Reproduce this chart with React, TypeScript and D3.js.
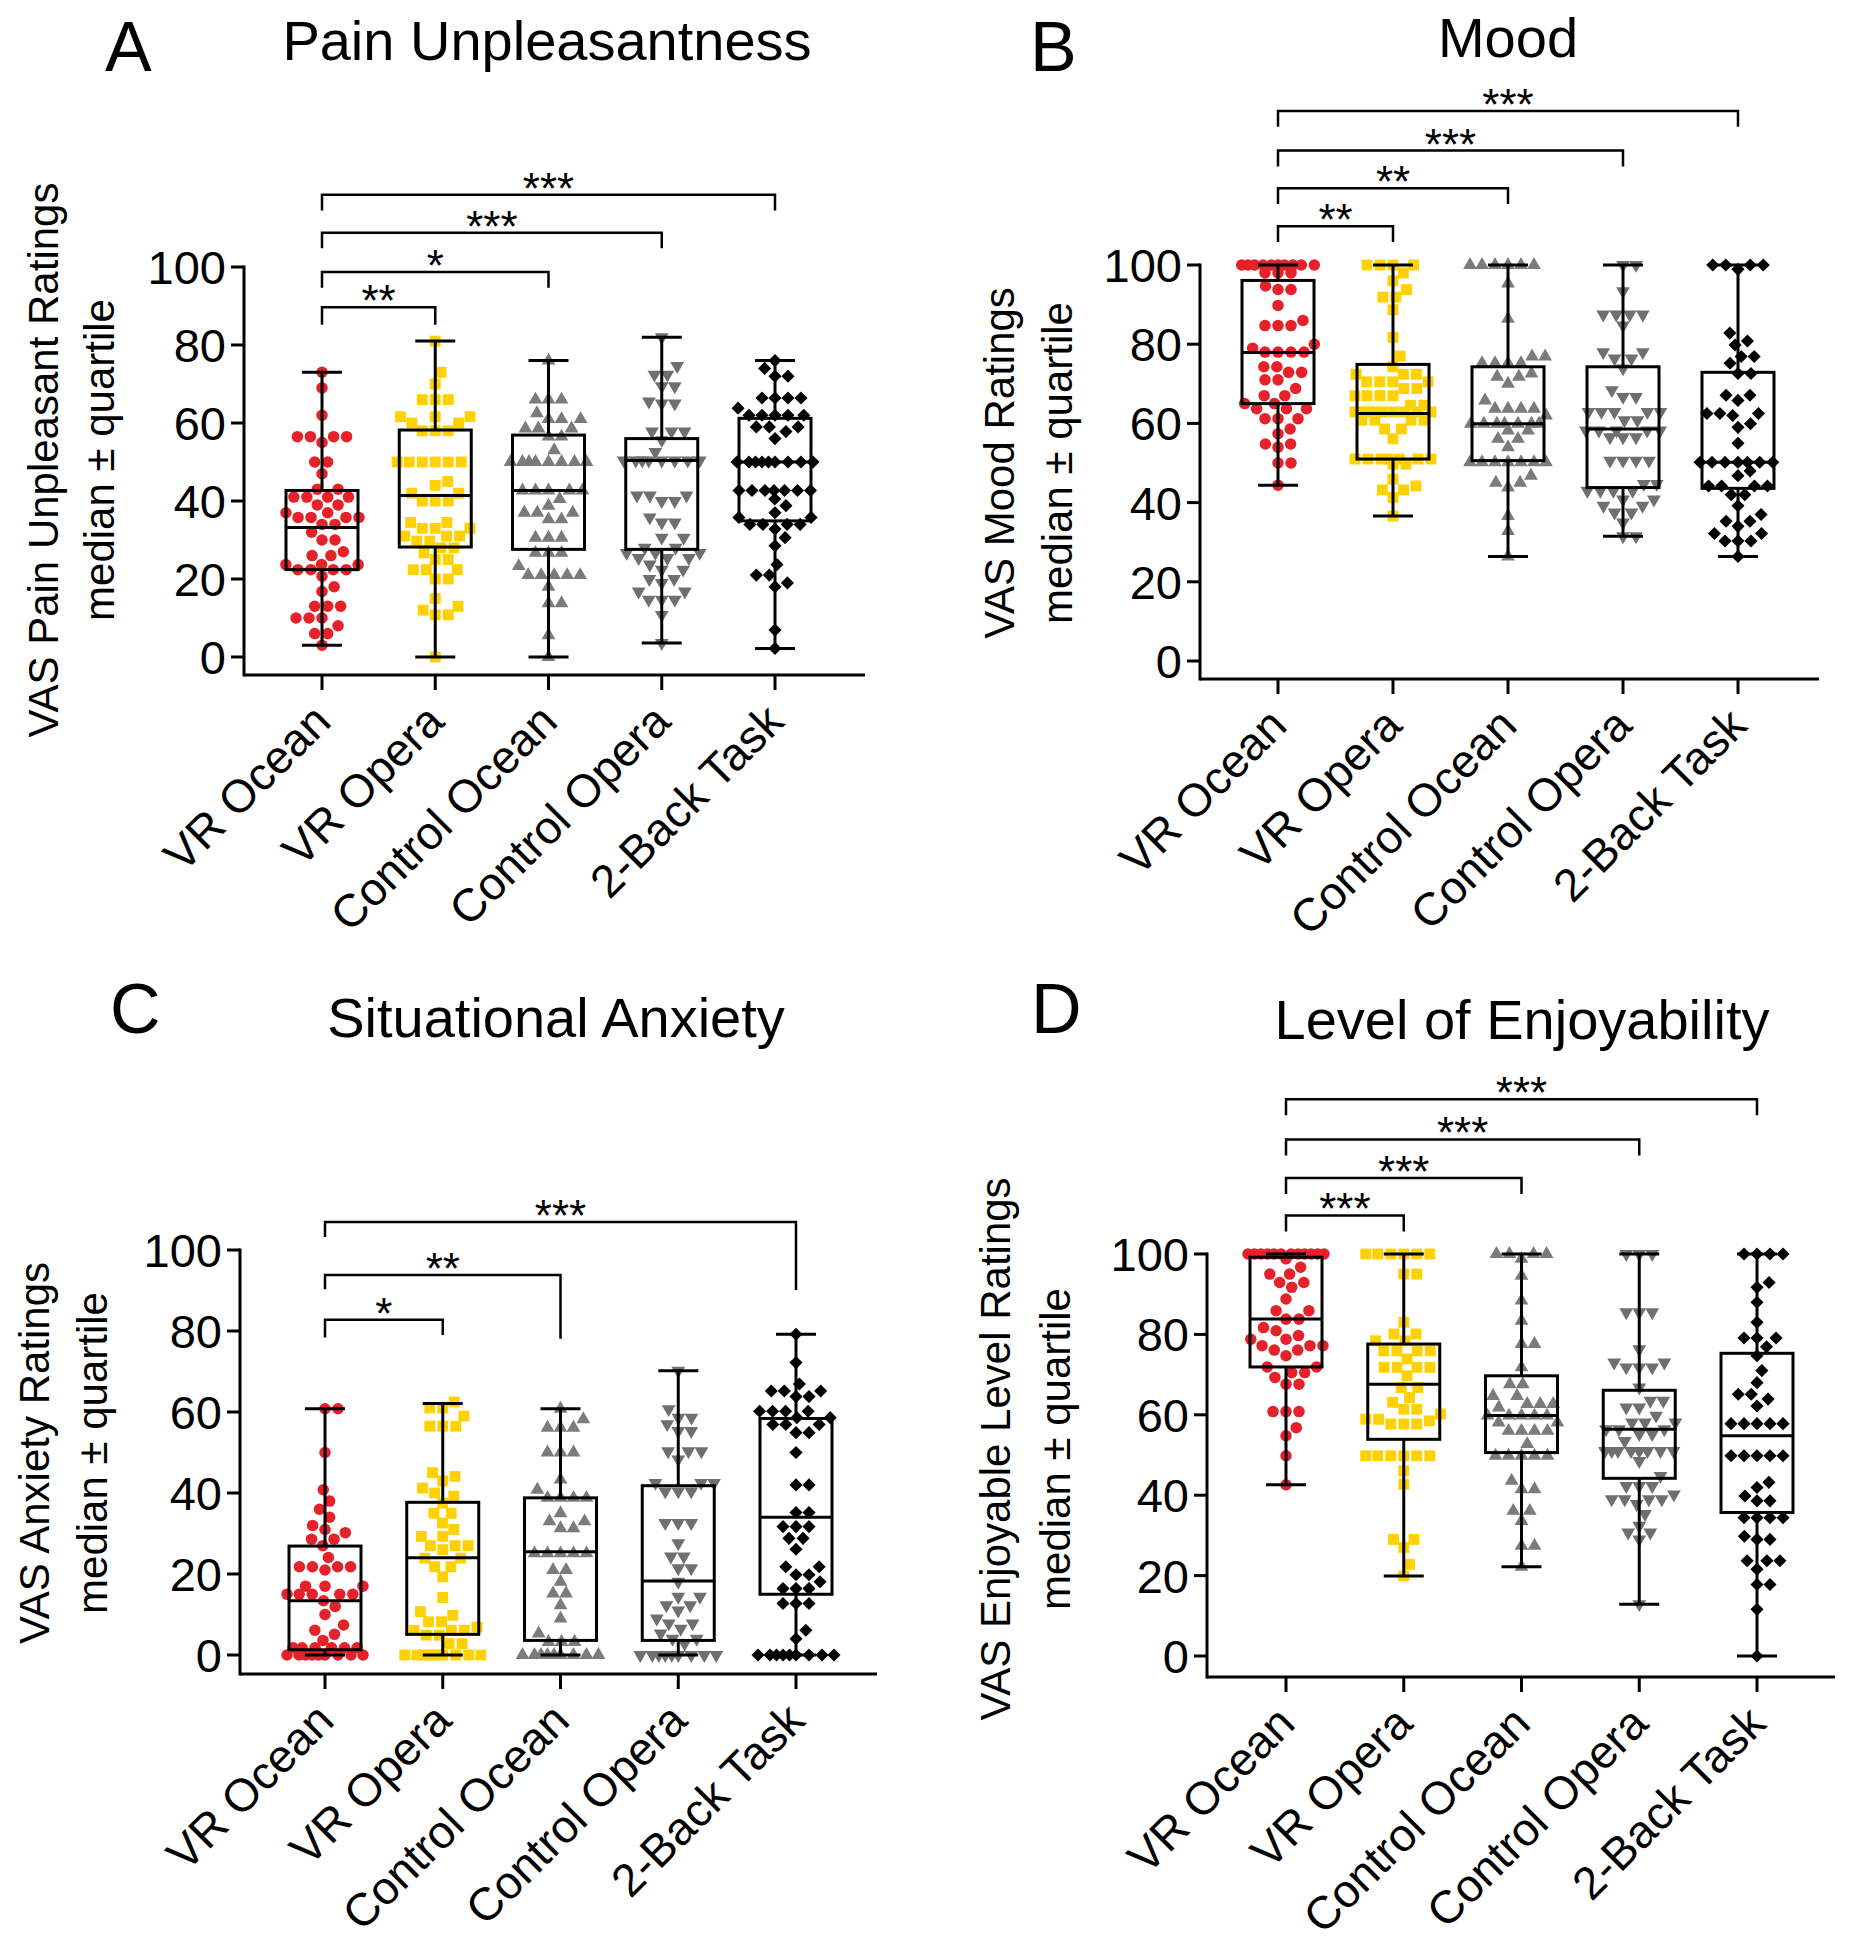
import React from 'react';
import * as d3 from 'd3';

const categories = ['VR Ocean', 'VR Opera', 'Control Ocean', 'Control Opera', '2-Back Task'];
const yTickValues = [0, 20, 40, 60, 80, 100];

// ---------- Panel A: Pain Unpleasantness ----------
const painVROcean = [73, 69, 62, 56.5, 56.5, 56.5, 56.5, 55, 50, 50, 47, 43, 43, 41, 41, 41, 41, 39, 39, 37, 37, 35.8, 35.8, 35.8, 35.8, 34, 34, 32, 30, 30, 27, 26, 26, 23.7, 23.7, 23.7, 22.4, 22.4, 22.4, 22.4, 20.7, 18, 16.8, 13, 13, 13, 10, 10, 10, 8, 6, 6, 3];
const painVROpera = [81, 73, 70, 66, 66, 66, 61.6, 61.6, 61.6, 60, 60, 58, 58, 58, 50, 50, 50, 50, 50, 50, 45, 44, 42, 42, 40, 40, 40, 34.5, 34.5, 33, 33, 33, 31, 31, 31, 29.7, 29.7, 28, 28, 26.7, 25, 25, 22.4, 22.4, 22.4, 20, 20, 15, 13, 12, 10.8, 10.8, 0];
const painCtrlOcean = [76, 66, 66, 66, 62.5, 61, 61, 61, 58.6, 58.6, 58.6, 56.5, 56.5, 53, 50, 50, 50, 50, 50, 50, 50, 50, 42.7, 42.7, 42.7, 42.7, 42.7, 40.5, 38.8, 37, 37, 37, 35.3, 35.3, 30.6, 30.6, 30.6, 26.7, 26.7, 26.7, 23.3, 21, 21, 21, 21, 21, 18, 13.8, 13.8, 5.6, 0];
const painCtrlOpera = [82, 74.6, 72.4, 72.4, 69.4, 69.4, 65.5, 65, 65, 57.8, 57.8, 57.8, 55.6, 52.6, 50.4, 50.4, 50.4, 50.4, 50.4, 50.4, 50.4, 50.4, 41.4, 41.4, 41.4, 40, 40, 35.8, 34.5, 34.5, 30.6, 30.6, 28, 28, 26.7, 26.7, 26.7, 25.4, 25.4, 25.4, 23.7, 22.4, 22.4, 20, 20, 19, 16.8, 16.8, 14.7, 14.7, 14.7, 10.8, 3.6];
const painTwoBack = [76, 74, 72, 72, 66.4, 66.4, 66.4, 66.4, 63.8, 62, 62, 62, 62, 62, 59, 59, 59, 57.8, 56, 50, 50, 50, 50, 50, 50, 50, 50, 50, 42.7, 42.7, 42.7, 42.7, 42.7, 42.7, 42.7, 40.5, 38.8, 37, 35.8, 35.8, 34, 34, 34, 34, 32.8, 30.6, 28.5, 23.7, 21, 21, 19, 18, 6.9, 2.2];
// [min, q1, median, q3, max]
const painBoxes = [[3, 22.4, 33.2, 42.7, 73], [0, 28.2, 41.4, 58.2, 81], [0, 27.6, 42.7, 56.9, 76], [3.6, 27.6, 50.4, 56, 82], [2.2, 34.9, 50, 61.2, 76]];
const painBrackets = [
  { to: 1, level: 89.7, legL: 4.5, legR: 4.5, label: '**' },
  { to: 2, level: 98.7, legL: 4, legR: 4, label: '*' },
  { to: 3, level: 108.8, legL: 4, legR: 4, label: '***' },
  { to: 4, level: 118.5, legL: 4, legR: 4, label: '***' },
];

// ---------- Panel B: Mood ----------
const moodVROcean = [100, 100, 100, 100, 100, 100, 100, 100, 100, 100, 98, 98, 98, 94.7, 93.8, 93.8, 89.8, 86, 84.7, 84.7, 84.7, 80, 79, 78, 78, 78, 78, 74.3, 74.3, 72.9, 72.9, 71, 71, 68.8, 67, 67, 65, 65, 63.7, 63.7, 63.7, 61.2, 61.2, 61.2, 58.6, 57.4, 54.8, 54.8, 54, 50, 50, 44.4];
const moodVROpera = [100, 100, 100, 100, 98, 96, 93.8, 91.9, 91.9, 88.7, 81.7, 77, 74.3, 72.4, 72.4, 72.4, 70.5, 70.5, 70.5, 70.5, 68.8, 68.8, 67, 67, 67, 67, 64.6, 64.6, 62.9, 62.9, 62.9, 62.9, 62.9, 62.9, 62.9, 62.9, 62.9, 60.8, 60.8, 60.8, 60.8, 58.6, 58.6, 56.1, 51, 51, 51, 51, 51, 51, 51, 49.7, 49.7, 45.9, 44.2, 43.2, 43.2, 41.3, 36.6];
const moodCtrlOcean = [100, 100, 100, 100, 100, 100, 95.3, 86.4, 76.9, 76.9, 75.2, 75.2, 75.2, 75.2, 72.6, 71.8, 71.8, 70, 65.8, 63.7, 63.7, 63.7, 63.7, 62, 59.9, 59.9, 59.9, 59.9, 59.9, 59.9, 59.9, 58.2, 58.2, 56.1, 56.1, 54, 50.2, 50.2, 50.2, 50.2, 50.2, 50.2, 50.2, 46.8, 45, 45, 43.8, 36.6, 32.8, 26.4];
const moodCtrlOpera = [100, 100, 93.4, 87.5, 87.5, 87.5, 87.5, 84.7, 78, 78, 76.4, 76.4, 73.9, 68.4, 66.7, 66.7, 62.9, 62.9, 62.9, 62.9, 62.9, 60.8, 60.8, 58.2, 58.2, 58.2, 58.2, 58.2, 56.5, 56.5, 56.5, 50.6, 50.6, 50.6, 50.6, 44.7, 44.7, 43, 43, 43, 43, 40.8, 40.8, 39.2, 39.2, 37.5, 37.5, 35, 31.5, 31.5];
const moodTwoBack = [100, 100, 100, 100, 98.9, 82.8, 80.8, 79.8, 76.9, 76.9, 75.2, 72.6, 72.6, 67.1, 67.1, 65.8, 62.5, 62.5, 62.5, 62, 59.9, 59, 55, 50.2, 50.2, 50.2, 50.2, 50.2, 50.2, 50.2, 48, 46.8, 44.2, 44.2, 44.2, 44.2, 42, 42, 39.2, 37, 35.3, 35.3, 34, 32.2, 32.2, 30.3, 30.3, 30.3, 26.4];
const moodBoxes = [[44.4, 65, 77.9, 96.1, 100], [36.6, 51, 62.5, 74.9, 100], [26.4, 50.6, 59.9, 74.3, 100], [31.5, 43.8, 58.6, 74.3, 100], [26.4, 43.6, 50.2, 72.9, 100]];
const moodBrackets = [
  { to: 1, level: 109.8, legL: 4, legR: 4, label: '**' },
  { to: 2, level: 119.4, legL: 4, legR: 4, label: '**' },
  { to: 3, level: 128.9, legL: 4, legR: 4, label: '***' },
  { to: 4, level: 138.9, legL: 4, legR: 4, label: '***' },
];

// ---------- Panel C: Situational Anxiety ----------
const anxVROcean = [60.8, 60.8, 50, 40.8, 38, 36, 34, 32, 31, 30.2, 28.6, 28.6, 27, 24.1, 21.8, 21.8, 21.8, 21.8, 21, 17, 17, 17, 15, 15, 15, 15, 15, 13.4, 12, 10, 7.4, 6.1, 5.1, 3.6, 1.8, 1.8, 1.8, 1.8, 1.8, 1.8, 0, 0, 0, 0, 0, 0, 0, 0, 0];
const anxVROpera = [62.5, 61, 61, 59, 56.5, 56.5, 56.5, 45, 44.1, 43, 41.2, 40, 39.2, 37.5, 35, 35, 32.6, 31, 29.3, 29.3, 27, 27, 27, 26, 23.9, 23.9, 21.8, 21.8, 19.3, 14.2, 10.7, 9.8, 8.2, 8.2, 6.9, 6.1, 6.1, 6.1, 4.9, 4.9, 2.8, 2.8, 0, 0, 0, 0, 0, 0, 0, 0, 0];
const anxCtrlOcean = [60.8, 58.2, 56.1, 56.1, 56.1, 50, 50, 50, 43.3, 40.8, 38.8, 38.8, 38.8, 38.8, 35, 33, 33, 31.3, 31.3, 25.1, 25.1, 25.1, 25.1, 25.1, 21, 21, 18.1, 15.2, 15.2, 12.3, 9, 5.3, 3.2, 3.2, 3.2, 0, 0, 0, 0, 0, 0, 0, 0, 0];
const anxCtrlOpera = [70.2, 60.7, 58.6, 58.6, 57, 55.3, 55.3, 50.3, 50.3, 50.3, 48.3, 42.5, 42.5, 42.5, 40.4, 40.4, 40.4, 32.6, 32.6, 32.6, 27.6, 24.3, 24.3, 21.4, 21.4, 18.1, 14.4, 14.4, 12.3, 12.3, 11, 9, 7.8, 7.8, 6.5, 5.3, 4, 4, 2.8, 0, 0, 0, 0, 0, 0, 0, 0, 0];
const anxTwoBack = [79.2, 72.2, 66.9, 65.2, 65.2, 65.2, 63.8, 63.8, 60.2, 60.2, 60.2, 60.2, 58.6, 58.6, 56.9, 56.9, 56.9, 54.9, 54.9, 50, 42, 42, 35.2, 35.2, 31.7, 31.7, 31.7, 28.8, 28.8, 26.1, 21.8, 21.8, 19.8, 19.8, 18.1, 16.4, 16.4, 16.4, 12.7, 12.7, 12.7, 6.1, 4, 0, 0, 0, 0, 0, 0, 0, 0, 0];
const anxBoxes = [[0, 1.3, 13.4, 26.9, 60.8], [0, 5.1, 24, 37.7, 62.1], [0, 3.6, 25.5, 38.8, 60.8], [0, 3.6, 18.3, 41.8, 70.2], [0, 15, 34, 58.4, 79.2]];
const anxBrackets = [
  { to: 1, level: 82.8, legL: 4.4, legR: 3.8, label: '*' },
  { to: 2, level: 93.8, legL: 3.5, legR: 15.7, label: '**' },
  { to: 4, level: 106.9, legL: 3.7, legR: 16.8, label: '***' },
];

// ---------- Panel D: Level of Enjoyability ----------
const enjVROcean = [100, 100, 100, 100, 100, 100, 100, 100, 100, 100, 100, 100, 98.8, 96.7, 95, 95, 92.9, 92.9, 91.7, 88.8, 85.9, 85.9, 83.8, 83.8, 81.7, 80.9, 79.7, 78.8, 78.8, 77.2, 77.2, 77.2, 76.1, 76.1, 74.7, 71.9, 71.9, 70.5, 70.5, 69.3, 67.6, 67.6, 60.8, 60.8, 60.8, 56.8, 54.8, 49.8, 42.6];
const enjVROpera = [100, 100, 100, 100, 100, 100, 95, 95, 83, 80.1, 80.1, 78.4, 78.4, 75.9, 75.9, 75.9, 75.9, 73.9, 71.8, 71.8, 71.8, 71.8, 69.7, 66.8, 66.8, 64.3, 63.1, 61.4, 61.4, 60.2, 58.9, 58.9, 58.5, 57.7, 57.7, 57.7, 49.8, 49.8, 49.8, 49.8, 49.8, 49.8, 46.1, 42.7, 29, 29, 27, 22.8, 19.9];
const enjCtrlOcean = [100, 100, 100, 100, 98.8, 94.6, 88.4, 83.4, 77.6, 77.6, 71.8, 67.6, 67.6, 64.7, 64.7, 62.7, 62.7, 62.7, 61.8, 59.8, 59.8, 59.8, 59.8, 59.8, 58.1, 58.1, 56, 56, 56, 56, 52.7, 49.8, 49.8, 49.8, 49.8, 49.8, 43.6, 41.5, 41.5, 36.1, 36.1, 33.6, 27.4, 27.4, 22.2];
const enjCtrlOpera = [100, 100, 100, 85.5, 85.5, 85.5, 76.3, 73, 73, 71.8, 71.8, 71.8, 66.8, 63.5, 63.5, 61.8, 61.8, 59.8, 58.1, 58.1, 58.1, 56.4, 56.4, 56.4, 55.2, 55.2, 53.5, 51, 51, 51, 51, 51, 51, 51, 51, 48.5, 44.8, 42.3, 42.3, 42.3, 40.2, 39, 39, 39, 39, 37.8, 35.3, 32.4, 30.7, 30.7, 29, 12.9];
const enjTwoBack = [100, 100, 100, 100, 92.9, 91.7, 88, 83, 79.1, 79.1, 79.1, 76.9, 74.7, 71, 68, 65.1, 65.1, 63.9, 62.2, 57.8, 57.8, 57.8, 57.8, 57.8, 49.8, 49.8, 49.8, 49.8, 49.8, 43.2, 41.9, 39.8, 38.6, 38.6, 34.4, 34.4, 34.4, 34.4, 29.8, 29, 29, 23.7, 23.7, 23.7, 21.6, 17.8, 17.8, 11.6, 0];
const enjBoxes = [[42.6, 71.9, 83.8, 99.2, 100], [19.9, 53.9, 67.6, 77.6, 100], [22.2, 50.6, 59.8, 69.7, 100], [12.9, 44.2, 56.4, 66.1, 100], [0, 35.7, 54.8, 75.3, 100]];
const enjBrackets = [
  { to: 1, level: 109.6, legL: 4, legR: 4, label: '***' },
  { to: 2, level: 118.9, legL: 4, legR: 4, label: '***' },
  { to: 3, level: 128.5, legL: 4, legR: 4, label: '***' },
  { to: 4, level: 138.5, legL: 4, legR: 4, label: '***' },
];

const groupStyles = [
  { shape: 'circle', color: '#e52229' },
  { shape: 'square', color: '#ffd100' },
  { shape: 'triUp', color: '#7b7b7b' },
  { shape: 'triDown', color: '#6f6f6f' },
  { shape: 'diamond', color: '#000000' },
];

const FONT = "'Liberation Sans', Arial, Helvetica, sans-serif";

function swarm(values: number[], y: (v: number) => number, d: number, W: number) {
  const pts = values.map((v) => ({ v, y: y(v) })).sort((a, b) => b.y - a.y);
  const placed: { x: number; y: number }[] = [];
  for (const p of pts) {
    const near = placed.filter((q) => Math.abs(q.y - p.y) < d);
    const cands = [0];
    for (const q of near) {
      const dx = Math.sqrt(d * d - (q.y - p.y) ** 2);
      cands.push(q.x + dx, q.x - dx);
    }
    const ok = cands.filter(
      (x) => Math.abs(x) <= W + 1e-6 && near.every((q) => (q.x - x) ** 2 + (q.y - p.y) ** 2 >= d * d - 1e-3)
    );
    let x = 0;
    if (ok.length) {
      ok.sort((a, b) => Math.abs(a) - Math.abs(b) || b - a);
      x = ok[0];
    } else {
      let best = 0;
      let bestScore = -Infinity;
      for (let gx = -W; gx <= W + 1e-6; gx += 0.5) {
        const s = Math.min(...near.map((q) => Math.hypot(q.x - gx, q.y - p.y)));
        if (s > bestScore + 1e-9) {
          bestScore = s;
          best = gx;
        }
      }
      x = best;
    }
    placed.push({ x, y: p.y });
  }
  return placed;
}

const symCircle = d3.symbol().type(d3.symbolCircle).size(104)() as string;
const symSquare = d3.symbol().type(d3.symbolSquare).size(118)() as string;
const symTri = d3.symbol().type(d3.symbolTriangle).size(82)() as string;
const symDiamond = d3.symbol().type(d3.symbolSquare).size(86)() as string;

function Marker({ shape, color, x, y }: { shape: string; color: string; x: number; y: number }) {
  let d = symCircle;
  let rot = 0;
  if (shape === 'square') d = symSquare;
  if (shape === 'triUp') d = symTri;
  if (shape === 'triDown') {
    d = symTri;
    rot = 180;
  }
  if (shape === 'diamond') {
    d = symDiamond;
    rot = 45;
  }
  return <path d={d} fill={color} transform={`translate(${x},${y}) rotate(${rot})`} />;
}

type PanelCfg = {
  letter: string;
  title: string;
  yLabel1: string;
  yLabel2: string;
  groups: number[][];
  boxes: number[][];
  brackets: { to: number; level: number; legL: number; legR: number; label: string }[];
  axisX: number;
  xEnd: number;
  axisY: number;
  y0: number;
  y100: number;
  c0: number;
  c1: number;
  letterX: number;
  letterY: number;
  titleX: number;
  titleY: number;
  lab1X: number;
  lab2X: number;
  labY: number;
};

function Panel({ cfg }: { cfg: PanelCfg }) {
  const x = d3.scalePoint<string>().domain(categories).range([cfg.c0, cfg.c1]);
  const y = d3.scaleLinear().domain([0, 100]).range([cfg.y0, cfg.y100]);
  const boxW = 72;
  const capW = 40;
  const sw = 3;
  return (
    <g>
      <text x={cfg.letterX} y={cfg.letterY} fontFamily={FONT} fontSize={70} fill="#000">
        {cfg.letter}
      </text>
      <text x={cfg.titleX} y={cfg.titleY} fontFamily={FONT} fontSize={56} textAnchor="middle" fill="#000">
        {cfg.title}
      </text>
      <text
        transform={`translate(${cfg.lab1X},${cfg.labY}) rotate(-90)`}
        fontFamily={FONT}
        fontSize={42}
        textAnchor="middle"
        fill="#000"
      >
        {cfg.yLabel1}
      </text>
      <text
        transform={`translate(${cfg.lab2X},${cfg.labY}) rotate(-90)`}
        fontFamily={FONT}
        fontSize={42}
        textAnchor="middle"
        fill="#000"
      >
        {cfg.yLabel2}
      </text>
      {/* axes */}
      <line x1={cfg.axisX} x2={cfg.axisX} y1={y(100) - 1.5} y2={cfg.axisY + 1.5} stroke="#000" strokeWidth={sw} />
      <line x1={cfg.axisX} x2={cfg.xEnd} y1={cfg.axisY} y2={cfg.axisY} stroke="#000" strokeWidth={sw} />
      {yTickValues.map((t) => (
        <g key={t}>
          <line x1={cfg.axisX - 13} x2={cfg.axisX} y1={y(t)} y2={y(t)} stroke="#000" strokeWidth={sw} />
          <text x={cfg.axisX - 18} y={y(t)} dy="0.36em" textAnchor="end" fontFamily={FONT} fontSize={47} fill="#000">
            {t}
          </text>
        </g>
      ))}
      {categories.map((c) => (
        <g key={c}>
          <line x1={x(c)} x2={x(c)} y1={cfg.axisY} y2={cfg.axisY + 15} stroke="#000" strokeWidth={sw} />
          <text
            transform={`translate(${(x(c) as number) + 11},${cfg.axisY + 49}) rotate(-45)`}
            textAnchor="end"
            fontFamily={FONT}
            fontSize={46}
            fill="#000"
          >
            {c}
          </text>
        </g>
      ))}
      {/* points */}
      {cfg.groups.map((vals, gi) => {
        const cx = x(categories[gi]) as number;
        const pts = swarm(vals, (v) => y(v), 13, 38);
        const st = groupStyles[gi];
        return (
          <g key={gi}>
            {pts.map((p, i) => (
              <Marker key={i} shape={st.shape} color={st.color} x={cx + p.x} y={p.y} />
            ))}
          </g>
        );
      })}
      {/* boxes */}
      {cfg.boxes.map((b, gi) => {
        const cx = x(categories[gi]) as number;
        const [mn, q1, md, q3, mx] = b;
        return (
          <g key={gi} stroke="#000" strokeWidth={sw} fill="none">
            <line x1={cx} x2={cx} y1={y(mx)} y2={y(q3)} />
            <line x1={cx} x2={cx} y1={y(q1)} y2={y(mn)} />
            <line x1={cx - capW / 2} x2={cx + capW / 2} y1={y(mx)} y2={y(mx)} />
            <line x1={cx - capW / 2} x2={cx + capW / 2} y1={y(mn)} y2={y(mn)} />
            <rect x={cx - boxW / 2} y={y(q3)} width={boxW} height={y(q1) - y(q3)} />
            <line x1={cx - boxW / 2} x2={cx + boxW / 2} y1={y(md)} y2={y(md)} />
          </g>
        );
      })}
      {/* significance brackets */}
      {cfg.brackets.map((br, i) => {
        const xa = x(categories[0]) as number;
        const xb = x(categories[br.to]) as number;
        const ly = y(br.level);
        return (
          <g key={i}>
            <path
              d={`M${xa},${y(br.level - br.legL)}V${ly}H${xb}V${y(br.level - br.legR)}`}
              fill="none"
              stroke="#000"
              strokeWidth={2.5}
            />
            <text x={(xa + xb) / 2} y={ly + 9} textAnchor="middle" fontFamily={FONT} fontSize={44} fill="#000">
              {br.label}
            </text>
          </g>
        );
      })}
    </g>
  );
}

const panelA: PanelCfg = {
  letter: 'A',
  title: 'Pain Unpleasantness',
  yLabel1: 'VAS Pain Unpleasant Ratings',
  yLabel2: 'median ± quartile',
  groups: [painVROcean, painVROpera, painCtrlOcean, painCtrlOpera, painTwoBack],
  boxes: painBoxes,
  brackets: painBrackets,
  axisX: 244,
  xEnd: 865,
  axisY: 675,
  y0: 657,
  y100: 267,
  c0: 322,
  c1: 775,
  letterX: 105,
  letterY: 71,
  titleX: 547,
  titleY: 60,
  lab1X: 58,
  lab2X: 114,
  labY: 460,
};

const panelB: PanelCfg = {
  letter: 'B',
  title: 'Mood',
  yLabel1: 'VAS Mood Ratings',
  yLabel2: 'median ± quartile',
  groups: [moodVROcean, moodVROpera, moodCtrlOcean, moodCtrlOpera, moodTwoBack],
  boxes: moodBoxes,
  brackets: moodBrackets,
  axisX: 1200,
  xEnd: 1819,
  axisY: 679,
  y0: 661,
  y100: 265,
  c0: 1278,
  c1: 1738,
  letterX: 1030,
  letterY: 71,
  titleX: 1508,
  titleY: 57,
  lab1X: 1014,
  lab2X: 1072,
  labY: 463,
};

const panelC: PanelCfg = {
  letter: 'C',
  title: 'Situational Anxiety',
  yLabel1: 'VAS Anxiety Ratings',
  yLabel2: 'median ± quartile',
  groups: [anxVROcean, anxVROpera, anxCtrlOcean, anxCtrlOpera, anxTwoBack],
  boxes: anxBoxes,
  brackets: anxBrackets,
  axisX: 240,
  xEnd: 877,
  axisY: 1674,
  y0: 1655,
  y100: 1250,
  c0: 325,
  c1: 796,
  letterX: 110,
  letterY: 1033,
  titleX: 556,
  titleY: 1037,
  lab1X: 49,
  lab2X: 107,
  labY: 1453,
};

const panelD: PanelCfg = {
  letter: 'D',
  title: 'Level of Enjoyability',
  yLabel1: 'VAS Enjoyable Level Ratings',
  yLabel2: 'median ± quartile',
  groups: [enjVROcean, enjVROpera, enjCtrlOcean, enjCtrlOpera, enjTwoBack],
  boxes: enjBoxes,
  brackets: enjBrackets,
  axisX: 1207,
  xEnd: 1835,
  axisY: 1677,
  y0: 1656,
  y100: 1254,
  c0: 1286,
  c1: 1757,
  letterX: 1031,
  letterY: 1033,
  titleX: 1522,
  titleY: 1039,
  lab1X: 1010,
  lab2X: 1070,
  labY: 1449,
};

export default function App() {
  return (
    <svg
      width={1856}
      height={1950}
      viewBox="0 0 1856 1950"
      style={{ position: 'absolute', left: 0, top: 0, background: '#fff' }}
    >
      <rect x={0} y={0} width={1856} height={1950} fill="#fff" />
      <Panel cfg={panelA} />
      <Panel cfg={panelB} />
      <Panel cfg={panelC} />
      <Panel cfg={panelD} />
    </svg>
  );
}
